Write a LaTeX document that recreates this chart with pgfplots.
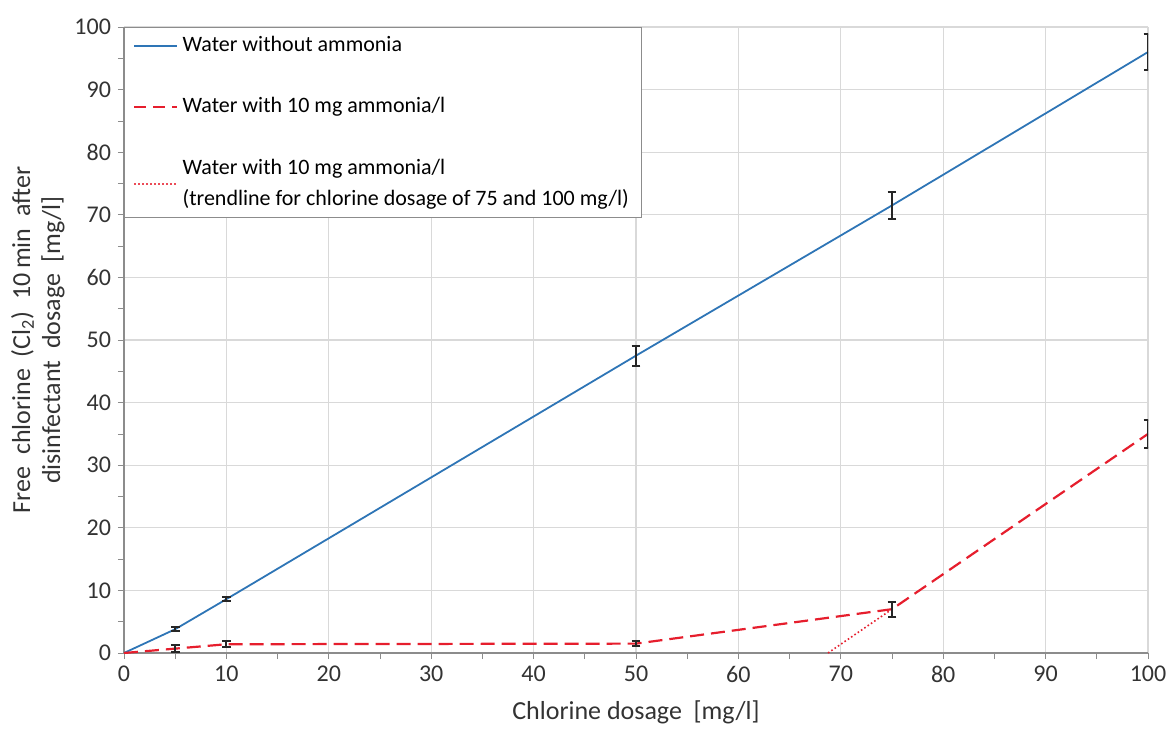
\documentclass[border=0pt]{standalone}
\usepackage{pgfplots}
\pgfplotsset{compat=1.18}
\usepackage{fontspec}
\setmainfont{Carlito}
\definecolor{xlblue}{RGB}{46,117,182}
\definecolor{xlred}{RGB}{230,30,45}
\definecolor{gridgray}{RGB}{217,217,217}
\definecolor{axgray}{RGB}{140,140,140}
\begin{document}
\begin{tikzpicture}
\begin{axis}[
  scale only axis,
  width=512pt, height=313pt,
  xmin=0, xmax=100, ymin=0, ymax=100,
  xtick={0,10,...,100}, ytick={0,10,...,100},
  minor x tick num=1, minor y tick num=1,
  tick align=outside, tick pos=left,
  major tick length=3pt, minor tick length=3pt,
  every tick/.style={axgray, thin},
  grid=major,
  major grid style={gridgray, line width=0.6pt},
  axis x line*=bottom, axis y line*=left,
  axis line style={axgray, line width=0.7pt},
  /pgf/number format/assume math mode=true,
  ticklabel style={font=\fontsize{12}{14}\selectfont, text=black!80},
  xlabel={Chlorine dosage\ \ [mg/l]},
  ylabel={Free\ \ chlorine\ \ (Cl\textsubscript{2})\ \ 10\,min\ \ after\\disinfectant\ \ dosage\ \ [mg/l]},
  label style={font=\fontsize{13}{15}\selectfont, text=black!80},
  ylabel style={align=center, yshift=-2pt},
  xlabel style={yshift=-2pt},
  legend style={at={(rel axis cs:0,1)}, anchor=north west,
    draw=axgray, fill=white, font=\fontsize{11}{15.5}\selectfont,
    row sep=17.5pt, inner xsep=4.5pt, inner ysep=2.5pt,
    cells={align=left, anchor=west}},
  legend cell align=left,
  legend image code/.code={\draw[#1] (0pt,0pt) -- (21.5pt,0pt);},
]
\coordinate (sw) at (rel axis cs:0,0);
\coordinate (ne) at (rel axis cs:1,1);

% legend
\addlegendimage{xlblue, line width=1pt}
\addlegendentry{Water without ammonia}
\addlegendimage{xlred, line width=1.1pt, dash pattern=on 6pt off 3.5pt}
\addlegendentry{Water with 10 mg ammonia/l}
\addlegendimage{xlred!80, line width=1pt, dash pattern=on 1pt off 1pt}
\addlegendentry{Water with 10 mg ammonia/l\\(trendline for chlorine dosage of 75 and 100 mg/l)}

% water without ammonia
\addplot[xlblue, line width=0.9pt, mark=none, forget plot]
  coordinates {(0,0) (5,3.8) (10,8.6) (50,47.5) (75,71.5) (100,96)};

% water with 10 mg ammonia/l
\addplot[xlred, line width=1.1pt, mark=none, dash pattern=on 7pt off 3.5pt, forget plot]
  coordinates {(0,0) (5,0.7) (10,1.4) (50,1.5) (75,7) (100,35)};

% trendline through 75 and 100 mg/l
\addplot[xlred, line width=0.8pt, mark=none, dash pattern=on 0.8pt off 1.2pt, forget plot]
  coordinates {(68.75,0) (75,7)};

% error bars
\addplot[draw=none, mark=none, forget plot,
  error bars/.cd, y dir=both, y explicit,
  error bar style={black!85, line width=1pt, solid},
  error mark options={black!85, line width=1pt, rotate=90, mark size=2.2pt, solid}]
  coordinates {
  (5,3.8) +- (0,0.3)
  (10,8.6) +- (0,0.3)
  (50,47.5) +- (0,1.6)
  (75,71.5) +- (0,2.1)
  (100,96) +- (0,2.9)
};
\addplot[draw=none, mark=none, forget plot,
  error bars/.cd, y dir=both, y explicit,
  error bar style={black!85, line width=1pt, solid},
  error mark options={black!85, line width=1pt, rotate=90, mark size=2.2pt, solid}]
  coordinates {
  (5,0.7) +- (0,0.5)
  (10,1.4) +- (0,0.5)
  (50,1.5) +- (0,0.4)
  (75,7) +- (0,1.2)
  (100,35) +- (0,2.2)
};
\end{axis}
\pgfresetboundingbox
\path ([shift={(-62pt,-38pt)}]sw) rectangle ([shift={(10pt,13.5pt)}]ne);
\end{tikzpicture}
\end{document}
